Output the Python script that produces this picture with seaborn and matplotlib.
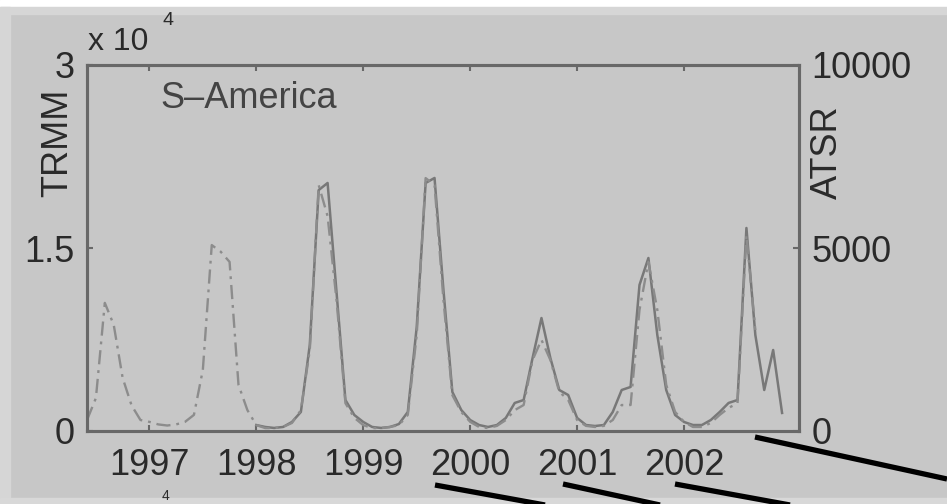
import numpy as np
import pandas as pd
import matplotlib
matplotlib.use("Agg")
import matplotlib.pyplot as plt
import seaborn as sns
from matplotlib.lines import Line2D
from matplotlib.patches import Rectangle

# ---------------- data (monthly) ----------------
region = "S–America"
atsr_start = (1996, 6)     # first month of ATSR series
atsr = [300, 900, 3500, 2900, 1450, 700, 300,                          # 1996 Jun-Dec
        250, 180, 150, 180, 250, 440, 1670, 5080, 4900, 4620, 1260, 570,   # 1997
        160, 80, 80, 110, 220, 570, 2210, 6720, 5870, 3580, 760, 360,      # 1998
        160, 80, 80, 110, 160, 440, 2620, 6910, 6720, 3580, 980, 520,      # 1999
        250, 110, 80, 140, 300, 570, 710, 1940, 2490, 1940, 1070, 850,     # 2000
        300, 140, 110, 140, 300, 710, 710, 3310, 4620, 3310, 1260, 520,    # 2001
        250, 110, 110, 220, 440, 630, 760, 5350, 2760]                     # 2002 Jan-Sep
trmm_start = (1998, 1)
trmm = [490, 330, 250, 330, 740, 1560, 7050, 19750, 20330, 11390, 2540, 1310,   # 1998
        740, 330, 250, 330, 570, 1560, 8520, 20330, 20740, 11560, 3200, 1720,   # 1999
        900, 490, 330, 490, 1070, 2300, 2540, 5980, 9260, 5980, 3360, 2950,     # 2000
        1070, 490, 410, 490, 1560, 3360, 3610, 11970, 14180, 7870, 3360, 1310,  # 2001
        740, 490, 490, 900, 1560, 2300, 2540, 16640, 7870, 3360, 6640, 1480]    # 2002
year_ticks = [1997, 1998, 1999, 2000, 2001, 2002]
trmm_ticks = [0, 15000, 30000]
trmm_ticklabels = ["0", "1.5", "3"]
atsr_ticks = [0, 5000, 10000]
atsr_ticklabels = ["0", "5000", "10000"]


def month_times(start, n):
    y, m = start
    return y + (m - 1 + np.arange(n)) / 12.0


df_atsr = pd.DataFrame({"t": month_times(atsr_start, len(atsr)), "v": atsr})
df_trmm = pd.DataFrame({"t": month_times(trmm_start, len(trmm)), "v": trmm})

# ---------------- style ----------------
BG = "#c7c7c7"
SPINE = "#686868"
TXT = "#2a2a2a"
FS = 26

plt.rcParams["font.family"] = ["Liberation Sans", "DejaVu Sans"]

fig = plt.figure(figsize=(9.47, 5.04), dpi=100, facecolor=BG)
ax = fig.add_axes([87 / 947, 1 - 431 / 504, (799 - 87) / 947, (431 - 65) / 504])
ax.set_facecolor(BG)
ax2 = ax.twinx()

sns.lineplot(data=df_trmm, x="t", y="v", ax=ax, color="#787878", lw=1.8,
             estimator=None, sort=False)
sns.lineplot(data=df_atsr, x="t", y="v", ax=ax2, color="#8c8c8c", lw=1.7,
             estimator=None, sort=False, linestyle=(0, (6, 2.5, 1.2, 2.5)))

ax.set_xlim(1996 + 5 / 12, 2003.075)
ax.set_ylim(0, 30000)
ax2.set_ylim(0, 10000)

ax.set_xticks(year_ticks)
ax.set_xticklabels([str(y) for y in year_ticks])
ax.set_yticks(trmm_ticks)
ax.set_yticklabels(trmm_ticklabels)
ax2.set_yticks(atsr_ticks)
ax2.set_yticklabels(atsr_ticklabels)

ax.set_xlabel("")
ax.set_ylabel("TRMM", fontsize=FS, color=TXT)
ax2.set_ylabel("ATSR", fontsize=FS, color=TXT)
ax.yaxis.set_label_coords((58 - 87) / 712, (431 - 143) / 366)
ax.yaxis.label.set_va("center")
ax2.yaxis.set_label_coords((827 - 87) / 712, (431 - 152) / 366)
ax2.yaxis.label.set_va("center")

for a in (ax, ax2):
    for s in a.spines.values():
        s.set_color(SPINE)
        s.set_linewidth(2.2)
    a.grid(False)

ax.tick_params(axis="x", direction="in", length=4.5, width=1.5, color=SPINE,
               top=True, bottom=True, labelsize=FS, labelcolor=TXT, pad=12)
ax.tick_params(axis="y", direction="in", length=4.5, width=1.5, color=SPINE,
               left=True, right=False, labelsize=FS, labelcolor=TXT, pad=9)
ax2.tick_params(axis="y", direction="in", length=4.5, width=1.5, color=SPINE,
                right=True, left=False, labelsize=FS, labelcolor=TXT, pad=9)

ax.text((160 - 87) / 712, (431 - 81) / 366, region, transform=ax.transAxes,
        ha="left", va="top", fontsize=FS, color="#444444")

# multiplier text above the left axis
fig.text(88 / 947, 1 - 50 / 504, "x 10", fontsize=23, color=TXT,
         ha="left", va="baseline")
fig.text(162 / 947, 1 - 25 / 504, "4", fontsize=14, color=TXT,
         ha="left", va="baseline")
# fragment of the next panel's multiplier at the very bottom
fig.text(162 / 947, 1 - 489 / 504, "4", fontsize=10, color=TXT,
         ha="left", va="top")

# frame strips of the scanned panel
fig.add_artist(Rectangle((0, 1 - 7 / 504), 1, 7 / 504, transform=fig.transFigure,
                         color="white", zorder=-5))
fig.add_artist(Rectangle((0, 1 - 14 / 504), 1, 7 / 504, transform=fig.transFigure,
                         color="#d6d6d6", zorder=-5))
fig.add_artist(Rectangle((0, 0), 10 / 947, 1 - 7 / 504, transform=fig.transFigure,
                         color="#d6d6d6", zorder=-5))
fig.add_artist(Rectangle((0, 0), 1, 6 / 504, transform=fig.transFigure,
                         color="#d8d8d8", zorder=-5))

# black connector lines toward the next panel
connectors = [((755, 437), (947, 479)),
              ((435, 485), (545, 505)),
              ((563, 484), (660, 505)),
              ((675, 484), (790, 505))]
for (x0, y0), (x1, y1) in connectors:
    fig.add_artist(Line2D([x0 / 947, x1 / 947], [1 - y0 / 504, 1 - y1 / 504],
                          transform=fig.transFigure, color="black", lw=3.8,
                          solid_capstyle="butt"))

fig.savefig("out.png", dpi=100, facecolor=BG)
